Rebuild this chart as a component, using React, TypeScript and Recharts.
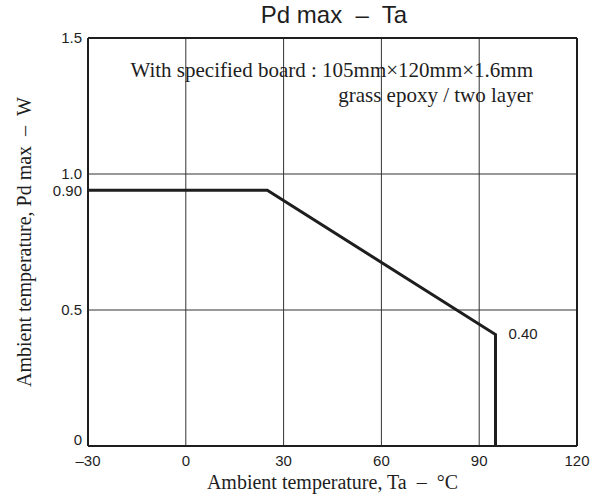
import { LineChart, Line, XAxis, YAxis, ReferenceLine, Label } from "recharts";

const temps = [-30, 25, 95, 95];
const pdMax = [0.94, 0.94, 0.41, 0];
const xTicks = [-30, 0, 30, 60, 90, 120];
const xTickLabels = ["\u201330", "0", "30", "60", "90", "120"];
const yTicks = [0, 0.5, 0.94, 1.0, 1.5];
const yTickLabels = ["0", "0.5", "0.90", "1.0", "1.5"];
const xGrid = [0, 30, 60, 90];
const yGrid = [0.5, 1.0];
const endLabel = "0.40";

const data = temps.map((t, i) => ({ t, pd: pdMax[i] }));

const SANS = "'Liberation Sans', Arial, sans-serif";
const SERIF = "'Liberation Serif', 'Times New Roman', serif";
const INK = "#1e1e1e";
const NB = "\u00A0";

function YTick(props: any) {
  const { x, y, payload } = props;
  const i = yTicks.indexOf(payload.value);
  const shift = payload.value === 0 ? -6 : 0;
  return (
    <text
      x={x + 2}
      y={y + shift}
      dy="0.36em"
      textAnchor="end"
      fill={INK}
      fontSize={15}
      fontFamily={SANS}
    >
      {yTickLabels[i] ?? String(payload.value)}
    </text>
  );
}

function XTick(props: any) {
  const { x, y, payload } = props;
  const i = xTicks.indexOf(payload.value);
  return (
    <text
      x={x}
      y={y + 1}
      dy="0.71em"
      textAnchor="middle"
      fill={INK}
      fontSize={15}
      fontFamily={SANS}
    >
      {xTickLabels[i] ?? String(payload.value)}
    </text>
  );
}

export default function App() {
  return (
    <div style={{ position: "absolute", left: 0, top: 0, width: 592, height: 500, background: "#fff" }}>
      <LineChart
        width={592}
        height={500}
        data={data}
        margin={{ top: 38, right: 15, bottom: 24, left: 28 }}
      >
        <XAxis
          dataKey="t"
          type="number"
          domain={[-30, 120]}
          ticks={xTicks}
          tickLine={false}
          axisLine={false}
          height={30}
          tick={<XTick />}
          interval={0}
        >
          <Label
            value={"Ambient temperature, Ta" + NB + NB + "\u2013" + NB + NB + "\u00B0C"}
            position="center"
            dy={21}
            style={{ fill: INK, fontSize: 20, fontFamily: SERIF }}
          />
        </XAxis>
        <YAxis
          type="number"
          domain={[0, 1.5]}
          ticks={yTicks}
          tickLine={false}
          axisLine={false}
          width={60}
          interval={0}
          tick={<YTick />}
        >
          <Label
            value={"Ambient temperature, Pd max" + NB + NB + "\u2013" + NB + NB + "W"}
            angle={-90}
            position="center"
            dx={-34}
            style={{ fill: INK, fontSize: 20, fontFamily: SERIF, textAnchor: "middle" }}
          />
        </YAxis>
        {xGrid.map((x) => (
          <ReferenceLine key={"gx" + x} x={x} stroke="#333" strokeWidth={1} />
        ))}
        {yGrid.map((y) => (
          <ReferenceLine key={"gy" + y} y={y} stroke="#333" strokeWidth={1} />
        ))}
        <ReferenceLine x={-30} stroke={INK} strokeWidth={2} />
        <ReferenceLine x={120} stroke={INK} strokeWidth={2} />
        <ReferenceLine y={0} stroke={INK} strokeWidth={2} />
        <ReferenceLine y={1.5} stroke={INK} strokeWidth={2} />
        <Line
          type="linear"
          dataKey="pd"
          stroke={INK}
          strokeWidth={3}
          dot={false}
          isAnimationActive={false}
          label={(p: any) =>
            p.index === 2 ? (
              <text
                key="endlabel"
                x={p.x + 13}
                y={p.y + 5}
                fill={INK}
                fontSize={15}
                fontFamily={SANS}
              >
                {endLabel}
              </text>
            ) : (
              <g key={"l" + p.index} />
            )
          }
        />
      </LineChart>
      <div
        style={{
          position: "absolute",
          left: 0,
          width: 668,
          top: 1,
          textAlign: "center",
          fontFamily: SANS,
          fontSize: 24,
          color: INK,
          whiteSpace: "pre",
        }}
      >
        {"Pd max  \u2013  Ta"}
      </div>
      <div
        style={{
          position: "absolute",
          right: 59,
          top: 58,
          textAlign: "right",
          fontFamily: SERIF,
          fontSize: 21,
          lineHeight: "25px",
          color: INK,
          whiteSpace: "pre",
        }}
      >
        {"With specified board : 105mm\u00D7120mm\u00D71.6mm"}
        <br />
        {"grass epoxy / two layer"}
      </div>
    </div>
  );
}
